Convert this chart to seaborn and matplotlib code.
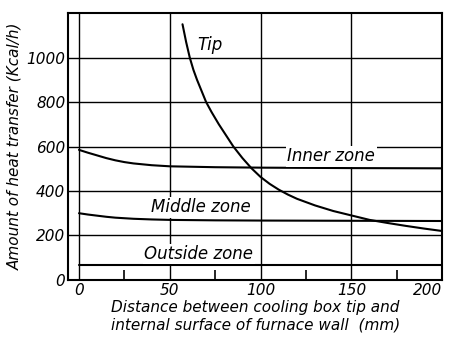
import matplotlib
matplotlib.use("Agg")
import matplotlib.pyplot as plt
from matplotlib.ticker import FixedLocator
import pandas as pd
import seaborn as sns

# curves (distance mm -> heat transfer kcal/h)
tip_x = [57, 58, 59, 60, 61, 63, 65, 67, 70, 73, 77, 81, 85, 90, 95, 100,
         105, 110, 115, 120, 130, 140, 150, 160, 170, 180, 190, 200]
tip_y = [1150, 1110, 1070, 1035, 1000, 945, 900, 860, 800, 755, 700, 650,
         600, 548, 502, 463, 432, 406, 384, 365, 335, 310, 290, 270, 256,
         243, 231, 220]

inner_x = [0, 5, 10, 15, 20, 25, 30, 40, 50, 75, 100, 150, 200]
inner_y = [585, 572, 560, 548, 538, 530, 524, 516, 511, 507, 505, 503, 502]

middle_x = [0, 5, 10, 15, 20, 30, 40, 50, 75, 100, 150, 200]
middle_y = [300, 294, 289, 284, 280, 275, 272, 270, 268, 267, 266, 265]

outside_x = [0, 200]
outside_y = [65, 65]

x_ticks = [0, 50, 100, 150, 200]
y_ticks = [0, 200, 400, 600, 800, 1000]

sns.set_style("white")
plt.rcParams["font.family"] = ["DejaVu Sans"]
plt.rcParams["text.color"] = "black"
plt.rcParams["axes.labelcolor"] = "black"
plt.rcParams["xtick.color"] = "black"
plt.rcParams["ytick.color"] = "black"

fig = plt.figure(figsize=(4.54, 3.46), dpi=100)
ax = fig.add_axes([0.150, 0.191, 0.824, 0.771])

ax.set_xlim(-6, 200)
ax.set_ylim(0, 1200)
ax.set_xticks(x_ticks)
ax.set_yticks(y_ticks)
ax.grid(True, color="black", linewidth=1.0)
ax.set_axisbelow(True)

for xs, ys in [(tip_x, tip_y), (inner_x, inner_y),
               (middle_x, middle_y), (outside_x, outside_y)]:
    df = pd.DataFrame({"x": xs, "y": ys})
    sns.lineplot(data=df, x="x", y="y", ax=ax, color="black",
                 linewidth=1.5, sort=False)

lbl_kw = dict(fontsize=12, style="italic", ha="center", va="center",
              bbox=dict(facecolor="white", edgecolor="none", pad=1.0))
ax.text(72, 1055, "Tip", **lbl_kw)
ax.text(139, 556, "Inner zone", **lbl_kw)
ax.text(67, 327, "Middle zone", **lbl_kw)
ax.text(66, 116, "Outside zone", **lbl_kw)

for s in ax.spines.values():
    s.set_color("black")
    s.set_linewidth(1.5)

ax.tick_params(axis="both", which="major", length=0, labelsize=11, pad=2)
ax.xaxis.set_minor_locator(FixedLocator([25, 75, 125, 175]))
ax.tick_params(axis="x", which="minor", direction="in", length=7,
               width=1.2, color="black", bottom=True)
for t in ax.get_xticklabels() + ax.get_yticklabels():
    t.set_style("italic")
ax.get_xticklabels()[-1].set_ha("right")

ax.set_xlabel("Distance between cooling box tip and\n"
              "internal surface of furnace wall  (mm)",
              fontsize=11, style="italic", labelpad=2, linespacing=1.15)
ax.set_ylabel("Amount of heat transfer (Kcal/h)", fontsize=11,
              style="italic", labelpad=3)

fig.savefig("out.png", dpi=100)
